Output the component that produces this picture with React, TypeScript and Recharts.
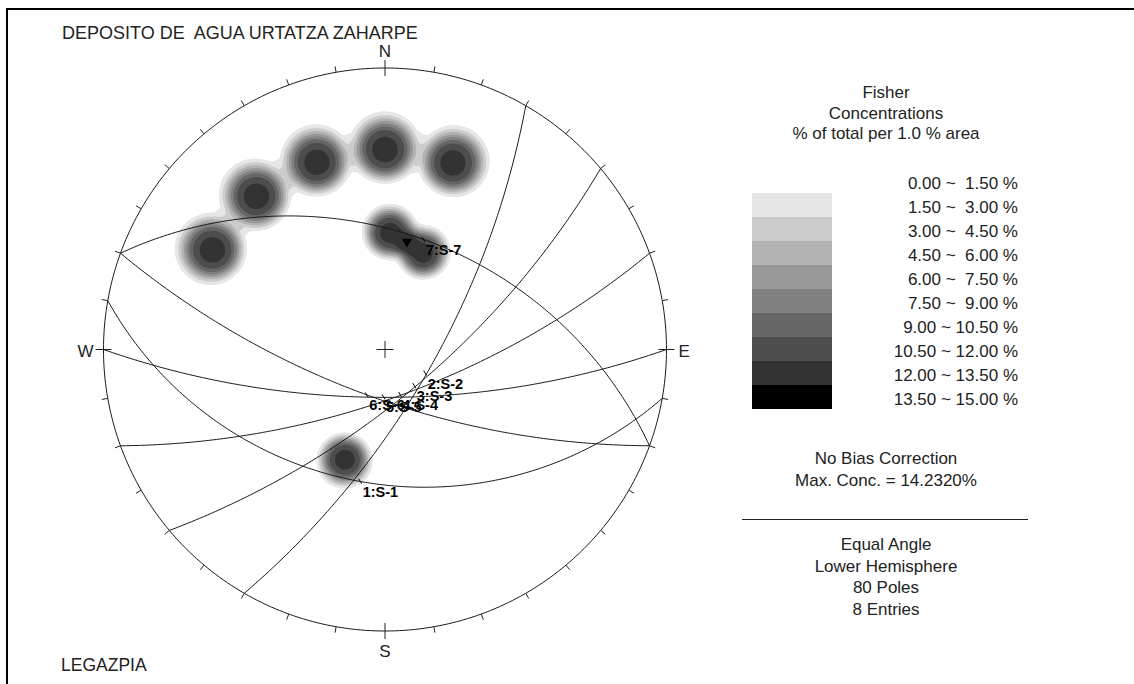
import React from 'react';
import { ScatterChart, Scatter, XAxis, YAxis } from 'recharts';

// ---------- data ----------
// pole entries (trend / plunge, degrees), 10 poles each
const entryTrends = [300, 320, 340, 0, 20, 2.5, 21.5, 200];
const entryPlunges = [19.5, 19.3, 19.5, 19.3, 19.7, 45.0, 49.6, 44.8];
const entryQuantities = [10, 10, 10, 10, 10, 10, 10, 10];
const meanPoleEntries = [5, 6];

// mean set planes (dip direction / dip)
const setLabels = ['1:S-1', '2:S-2', '3:S-3', '4:S-4', '5:S-5', '6:S-6', '7:S-7'];
const setDipDirections = [190, 120, 140, 160, 180, 200, 20];
const setDips = [39, 70.6, 70.7, 70.5, 70.7, 70.3, 45];

// contour levels
const levelLows = [0, 1.5, 3, 4.5, 6, 7.5, 9, 10.5, 12, 13.5];
const levelColors = ['#ffffff', '#e6e6e6', '#cccccc', '#b3b3b3', '#999999', '#808080', '#666666', '#4d4d4d', '#333333', '#000000'];
const legendLabels = [
  '0.00 ~  1.50 %', '1.50 ~  3.00 %', '3.00 ~  4.50 %', '4.50 ~  6.00 %', '6.00 ~  7.50 %',
  '7.50 ~  9.00 %', '9.00 ~ 10.50 %', '10.50 ~ 12.00 %', '12.00 ~ 13.50 %', '13.50 ~ 15.00 %',
];
const cardinalAz = [0, 90, 180, 270];
const cardinalNames = ['N', 'E', 'S', 'W'];

const titleText = 'DEPOSITO DE  AGUA URTATZA ZAHARPE';
const footText = 'LEGAZPIA';
const legendHead = ['Fisher', 'Concentrations', '% of total per 1.0 % area'];
const legendMid = ['No Bias Correction', 'Max. Conc. = 14.2320%'];
const legendFoot = ['Equal Angle', 'Lower Hemisphere', '80 Poles', '8 Entries'];

// kernel parameters (flat-topped Fisher-like kernel)
const PEAK_PER_POLE = 1.24;
const KERNEL_ANGLE = 8.1; // degrees

// ---------- layout ----------
const W = 1134;
const H = 684;
const CX = 385;
const CY = 349.5;
const RPX = 281.5;
const XMIN = -CX / RPX;
const XMAX = (W - CX) / RPX;
const YMIN = (CY - H) / RPX;
const YMAX = CY / RPX;
const FONT = '"Liberation Sans", Arial, sans-serif';

// ---------- geometry ----------
const DEG = Math.PI / 180;
type V3 = [number, number, number];
const vec = (trend: number, plunge: number): V3 => [
  Math.cos(plunge * DEG) * Math.cos(trend * DEG),
  Math.cos(plunge * DEG) * Math.sin(trend * DEG),
  Math.sin(plunge * DEG),
];
const proj = (v: V3) => {
  let [n, e, d] = v;
  if (d < 0) { n = -n; e = -e; d = -d; }
  return { x: e / (1 + d), y: n / (1 + d) };
};
const unproj = (x: number, y: number): V3 => {
  const r2 = x * x + y * y;
  const k = 1 + r2;
  return [(2 * y) / k, (2 * x) / k, (1 - r2) / k];
};

const poleVecs = entryTrends.map((t, i) => vec(t, entryPlunges[i]));
const KA = KERNEL_ANGLE * DEG;

function density(x: number, y: number) {
  const u = unproj(x, y);
  let s = 0;
  for (let i = 0; i < poleVecs.length; i++) {
    const p = poleVecs[i];
    const c = Math.min(1, Math.abs(u[0] * p[0] + u[1] * p[1] + u[2] * p[2]));
    const th = Math.acos(c) / KA;
    s += entryQuantities[i] * PEAK_PER_POLE * Math.exp(-(th * th * th * th));
  }
  return s;
}

const ANGLES = 72;
function traceContour(i: number, level: number) {
  const c = proj(poleVecs[i]);
  if (density(c.x, c.y) < level) return null;
  const pts: { x: number; y: number }[] = [];
  for (let a = 0; a < ANGLES; a++) {
    const phi = (2 * Math.PI * a) / ANGLES;
    const dx = Math.cos(phi) / RPX;
    const dy = Math.sin(phi) / RPX;
    let s = 0;
    const step = 2;
    while (s < 160) {
      s += step;
      if (density(c.x + dx * s, c.y + dy * s) < level) break;
    }
    let lo = s - step;
    let hi = s;
    for (let k = 0; k < 7; k++) {
      const mid = (lo + hi) / 2;
      if (density(c.x + dx * mid, c.y + dy * mid) >= level) lo = mid;
      else hi = mid;
    }
    pts.push({ x: c.x + dx * lo, y: c.y + dy * lo });
  }
  pts.push(pts[0]);
  return pts;
}

const contourLayers: { key: string; color: string; pts: { x: number; y: number }[] }[] = [];
for (let l = 1; l < levelLows.length; l++) {
  for (let i = 0; i < poleVecs.length; i++) {
    const pts = traceContour(i, levelLows[l]);
    if (pts) contourLayers.push({ key: `c${l}-${i}`, color: levelColors[l], pts });
  }
}

function greatCircle(dd: number, dip: number) {
  const s = (dd - 90) * DEG;
  const S: V3 = [Math.cos(s), Math.sin(s), 0];
  const Dv = vec(dd, dip);
  const pts: { x: number; y: number }[] = [];
  for (let k = 0; k <= 180; k++) {
    const t = k * DEG;
    const v: V3 = [
      S[0] * Math.cos(t) + Dv[0] * Math.sin(t),
      S[1] * Math.cos(t) + Dv[1] * Math.sin(t),
      S[2] * Math.cos(t) + Dv[2] * Math.sin(t),
    ];
    const { x, y } = proj(v);
    pts.push({ x, y });
  }
  return pts;
}
const greatCircles = setDipDirections.map((dd, i) => greatCircle(dd, setDips[i]));
const apexes = setDipDirections.map((dd, i) => ({ ...proj(vec(dd, setDips[i])), label: setLabels[i] }));

const primitive: { x: number; y: number }[] = [];
for (let a = 0; a <= 360; a += 1) primitive.push({ x: Math.sin(a * DEG), y: Math.cos(a * DEG) });

const ticks: { x: number; y: number; az: number; major: boolean }[] = [];
for (let a = 0; a < 360; a += 10) ticks.push({ x: Math.sin(a * DEG), y: Math.cos(a * DEG), az: a, major: a % 90 === 0 });

const cardinals = cardinalAz.map((a, i) => ({ x: Math.sin(a * DEG), y: Math.cos(a * DEG), az: a, name: cardinalNames[i] }));

const meanPole = (() => {
  const s: V3 = [0, 0, 0];
  meanPoleEntries.forEach((i) => { for (let k = 0; k < 3; k++) s[k] += poleVecs[i][k] * entryQuantities[i]; });
  const n = Math.hypot(s[0], s[1], s[2]);
  return [proj([s[0] / n, s[1] / n, s[2] / n])];
})();

// ---------- shapes ----------
const NoShape = () => <g />;
const TickShape = (p: any) => {
  const az = p.payload.az * DEG;
  const ux = Math.sin(az);
  const uy = -Math.cos(az);
  const a = p.payload.major ? -8 : 0;
  const b = p.payload.major ? 8 : 6;
  return <line x1={p.cx + ux * a} y1={p.cy + uy * a} x2={p.cx + ux * b} y2={p.cy + uy * b} stroke="#222" strokeWidth={1} />;
};
const CardinalShape = (p: any) => {
  const name = p.payload.name;
  let x = p.cx, y = p.cy, anchor: 'start' | 'middle' | 'end' = 'middle';
  if (name === 'N') { y = p.cy - 11; }
  if (name === 'S') { y = p.cy + 26; }
  if (name === 'E') { x = p.cx + 12; y = p.cy + 7; anchor = 'start'; }
  if (name === 'W') { x = p.cx - 10; y = p.cy + 7; anchor = 'end'; }
  return <text x={x} y={y} textAnchor={anchor} fontFamily={FONT} fontSize={17} fill="#222">{name}</text>;
};
const CrossShape = (p: any) => (
  <g stroke="#222" strokeWidth={1}>
    <line x1={p.cx - 8.5} y1={p.cy} x2={p.cx + 8.5} y2={p.cy} />
    <line x1={p.cx} y1={p.cy - 8.5} x2={p.cx} y2={p.cy + 8.5} />
  </g>
);
const LabelShape = (p: any) => (
  <g>
    <line x1={p.cx - 3} y1={p.cy - 3} x2={p.cx} y2={p.cy + 2} stroke="#000" strokeWidth={1} />
    <text x={p.cx + 1} y={p.cy + 15} fontFamily={FONT} fontSize={14.5} fontWeight="bold" fill="#000">{p.payload.label}</text>
  </g>
);
const TriangleShape = (p: any) => (
  <path d={`M${p.cx - 5},${p.cy - 4} L${p.cx + 5},${p.cy - 4} L${p.cx},${p.cy + 5} Z`} fill="#000" />
);

export default function App() {
  return (
    <div style={{ position: 'absolute', left: 0, top: 0, width: W, height: H, background: '#fff' }}>
      <ScatterChart width={W} height={H} margin={{ top: 0, right: 0, bottom: 0, left: 0 }}>
        <XAxis type="number" dataKey="x" domain={[XMIN, XMAX]} hide allowDataOverflow />
        <YAxis type="number" dataKey="y" domain={[YMIN, YMAX]} hide allowDataOverflow />
        {contourLayers.map((c) => (
          <Scatter key={c.key} data={c.pts} line={{ stroke: 'none', fill: c.color }} shape={NoShape} isAnimationActive={false} />
        ))}
        {greatCircles.map((g, i) => (
          <Scatter key={`gc${i}`} data={g} line={{ stroke: '#1a1a1a', strokeWidth: 1 }} shape={NoShape} isAnimationActive={false} />
        ))}
        <Scatter data={primitive} line={{ stroke: '#1a1a1a', strokeWidth: 1 }} shape={NoShape} isAnimationActive={false} />
        <Scatter data={ticks} shape={TickShape} isAnimationActive={false} />
        <Scatter data={cardinals} shape={CardinalShape} isAnimationActive={false} />
        <Scatter data={[{ x: 0, y: 0 }]} shape={CrossShape} isAnimationActive={false} />
        <Scatter data={meanPole} shape={TriangleShape} isAnimationActive={false} />
        <Scatter data={apexes} shape={LabelShape} isAnimationActive={false} />
      </ScatterChart>
      <svg width={W} height={H} style={{ position: 'absolute', left: 0, top: 0, pointerEvents: 'none' }}>
        <rect x={7} y={9} width={1200} height={800} fill="none" stroke="#000" strokeWidth={2} />
        <text x={62} y={39} fontFamily={FONT} fontSize={18} fill="#222" style={{ whiteSpace: 'pre' }}>{titleText}</text>
        <text x={61} y={671} fontFamily={FONT} fontSize={17.5} fill="#222">{footText}</text>
        {legendHead.map((t, i) => (
          <text key={t} x={886} y={98 + i * 20.5} textAnchor="middle" fontFamily={FONT} fontSize={17} fill="#222">{t}</text>
        ))}
        {levelColors.slice(1).map((c, i) => (
          <rect key={c} x={752} y={193 + i * 24} width={80} height={24} fill={c} />
        ))}
        {legendLabels.map((t, i) => (
          <text key={t} x={1018} y={189 + i * 24} textAnchor="end" fontFamily={FONT} fontSize={17} fill="#222" style={{ whiteSpace: 'pre' }}>{t}</text>
        ))}
        {legendMid.map((t, i) => (
          <text key={t} x={886} y={464 + i * 21.5} textAnchor="middle" fontFamily={FONT} fontSize={17} fill="#222">{t}</text>
        ))}
        <line x1={742} y1={519.5} x2={1028} y2={519.5} stroke="#222" strokeWidth={1} />
        {legendFoot.map((t, i) => (
          <text key={t} x={886} y={550 + i * 21.5} textAnchor="middle" fontFamily={FONT} fontSize={17} fill="#222">{t}</text>
        ))}
      </svg>
    </div>
  );
}
